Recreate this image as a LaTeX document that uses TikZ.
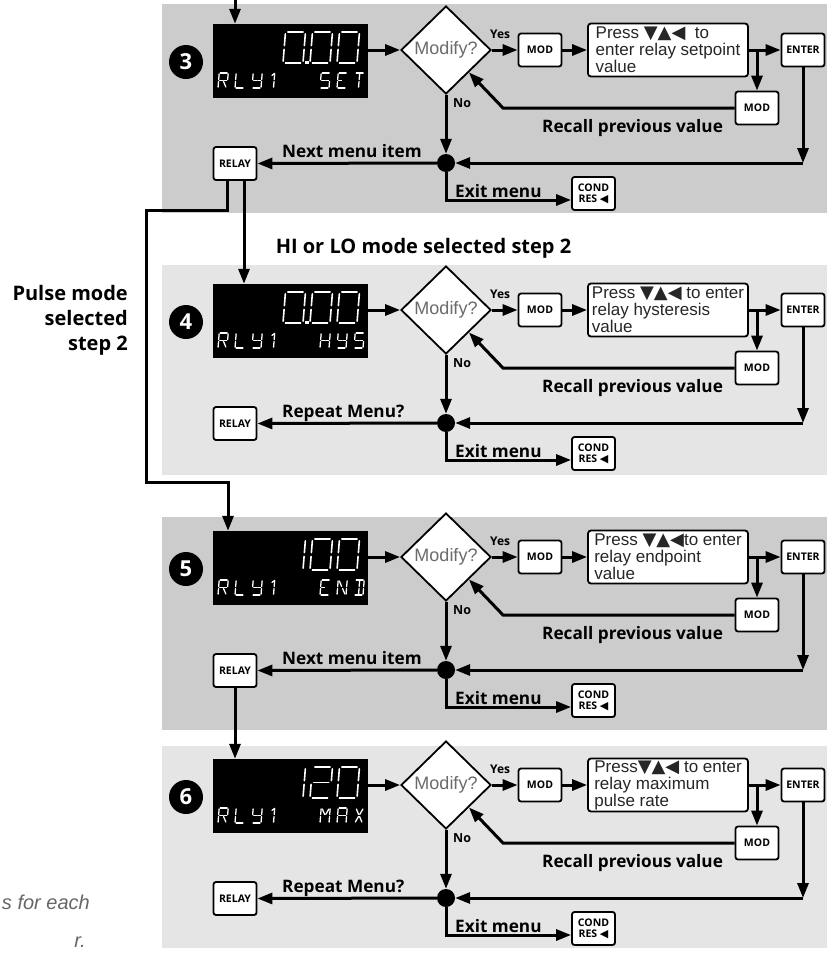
\documentclass[tikz,border=0pt]{standalone}
\usepackage{fontspec}
\setmainfont{Liberation Sans}
\newfontfamily\lblfont{Open Sans}
\newfontfamily\symfont{DejaVu Sans}
\usetikzlibrary{shapes.geometric,arrows.meta}
\definecolor{pdark}{gray}{0.80}
\definecolor{plight}{gray}{0.90}
\definecolor{txtgray}{gray}{0.42}
\newcommand{\keysyms}{{\symfont\fontsize{18}{17}\selectfont ▼▲◀}}
\tikzset{
  conn/.style={line width=3pt,-{Triangle[length=15pt,width=11pt]}},
  keybox/.style={draw,line width=1.8pt,fill=white,rounded corners=2.5pt,minimum width=43pt,minimum height=33pt,inner sep=0pt,align=center,font=\lblfont\bfseries\fontsize{10.5}{11}\selectfont},
  condbox/.style={keybox,font=\lblfont\bfseries\fontsize{10.5}{11}\selectfont},
  pressbox/.style={draw,line width=1.8pt,fill=white,rounded corners=3pt,minimum width=160pt,minimum height=53pt,inner sep=0pt,align=left,text=black!85,font=\fontsize{17}{17}\selectfont},
  dia/.style={diamond,draw,line width=1.8pt,fill=white,minimum width=90pt,minimum height=88pt,inner sep=0pt,text=txtgray,font=\fontsize{18}{18}\selectfont},
  lcd/.style={fill=black,minimum width=155pt,minimum height=74pt,inner sep=0pt},
  numcirc/.style={circle,fill=black,minimum size=34pt,inner sep=0pt,text=white,font=\lblfont\bfseries\fontsize{22}{22}\selectfont},
  junc/.style={circle,fill=black,minimum size=18pt,inner sep=0pt},
  lbl/.style={inner sep=0pt,font=\lblfont\bfseries\fontsize{17.2}{18}\selectfont},
  yeslbl/.style={inner sep=0pt,font=\lblfont\bfseries\fontsize{12}{12}\selectfont},
  nolbl/.style={inner sep=0pt,font=\lblfont\bfseries\fontsize{12.5}{13}\selectfont},
  title/.style={inner sep=0pt,font=\lblfont\bfseries\fontsize{20}{25}\selectfont},
  note/.style={inner sep=0pt,text=black!60,font=\itshape\fontsize{20}{20}\selectfont},
}
% segments of a 14-segment cell (unit cell 1 wide, 2 high, y up)
\newcommand{\sgA}{\draw (0.12,2)--(0.88,2);}
\newcommand{\sgB}{\draw (1,1.88)--(1,1.12);}
\newcommand{\sgC}{\draw (1,0.88)--(1,0.12);}
\newcommand{\sgD}{\draw (0.12,0)--(0.88,0);}
\newcommand{\sgE}{\draw (0,0.88)--(0,0.12);}
\newcommand{\sgF}{\draw (0,1.88)--(0,1.12);}
\newcommand{\sgG}{\draw (0.12,1)--(0.88,1);}
\newcommand{\sgGa}{\draw (0.12,1)--(0.44,1);}
\newcommand{\sgGb}{\draw (0.56,1)--(0.88,1);}
\newcommand{\sgH}{\draw (0.14,1.86)--(0.44,1.14);}
\newcommand{\sgI}{\draw (0.5,1.88)--(0.5,1.12);}
\newcommand{\sgJ}{\draw (0.86,1.86)--(0.56,1.14);}
\newcommand{\sgK}{\draw (0.44,0.86)--(0.14,0.14);}
\newcommand{\sgL}{\draw (0.5,0.88)--(0.5,0.12);}
\newcommand{\sgM}{\draw (0.56,0.86)--(0.86,0.14);}
\newcommand{\segR}{\sgA\sgB\sgF\sgE\sgGa\sgGb\sgM}
\newcommand{\segL}{\sgF\sgE\sgD}
\newcommand{\segY}{\sgF\sgB\sgGa\sgGb\sgC\sgD}
\newcommand{\segOne}{\sgI\sgL\draw (0.5,1.95)--(0.22,1.68);}
\newcommand{\segS}{\sgA\sgF\sgGa\sgGb\sgC\sgD}
\newcommand{\segE}{\sgA\sgF\sgGa\sgE\sgD}
\newcommand{\segT}{\sgA\sgI\sgL}
\newcommand{\segH}{\sgF\sgE\sgB\sgC\sgGa\sgGb}
\newcommand{\segN}{\sgF\sgE\sgH\sgM\sgB\sgC}
\newcommand{\segD}{\sgA\sgB\sgC\sgD\sgI\sgL}
\newcommand{\segM}{\sgF\sgE\sgB\sgC\sgH\sgJ}
\newcommand{\segAA}{\sgA\sgF\sgE\sgB\sgC\sgGa\sgGb}
\newcommand{\segX}{\sgH\sgJ\sgK\sgM}
\newcommand{\bigZero}{\sgA\sgB\sgC\sgD\sgE\sgF}
\newcommand{\bigOne}{\sgB\sgC}
\newcommand{\bigTwo}{\sgA\sgB\sgG\sgE\sgD}
\newcommand{\lcdchar}[5]{\begin{scope}[shift={(#1,#2)},x=#3pt,y=#4pt,xslant=0.08]#5\end{scope}}
\newcommand{\bigch}[2]{\begin{scope}[line width=1.6pt]\lcdchar{#1}{63}{20}{15.5}{#2}\end{scope}}
\newcommand{\smallch}[2]{\begin{scope}[line width=1.3pt]\lcdchar{#1}{88}{9}{7.5}{#2}\end{scope}}
\newcommand{\decpt}{\fill (305,61) rectangle (308.5,64);}
% one stage panel
\newcommand{\stagepanel}[9]{%
\begin{scope}[shift={(0,#2)}]
  \fill[#5] (162,#3) rectangle (827,#4);
  \node[numcirc] (num#1) at (186,62) {#6};
  \node[lcd] (disp#1) at (290.5,61) {};
  \begin{scope}[white,line cap=round]#9\end{scope}
  \node[dia] (dia#1) at (446,50) {Modify?};
  \node[yeslbl,anchor=base west] (yes#1) at (490,38) {Yes};
  \node[keybox] (mod#1) at (540,50) {MOD};
  \node[pressbox] (press#1) at (668,50) {#7};
  \node[keybox] (enter#1) at (803,50) {ENTER};
  \node[keybox] (modb#1) at (757,108) {MOD};
  \node[lbl,anchor=base west] (recall#1) at (542,132) {Recall previous value};
  \node[junc] (junc#1) at (446,163) {};
  \node[nolbl,anchor=base west] (no#1) at (453,107) {No};
  \node[keybox] (relay#1) at (235,163.5) {RELAY};
  \node[lbl,anchor=base west] (left#1) at (282,157) {#8};
  \node[condbox] (cond#1) at (593.5,193.5) {COND\\RES {\symfont\fontsize{11}{11}\selectfont◀}};
  \node[lbl,anchor=base west] (exit#1) at (455,197) {Exit menu};
  \coordinate (br#1) at (757,50);
  \coordinate (rc#1) at (503,108);
  \coordinate (ec#1) at (803,163);
  \coordinate (xc#1) at (446,200);
  \draw[conn] (disp#1.east |- dia#1.west) -- (dia#1.west);
  \draw[conn] (dia#1.east) -- (mod#1.west);
  \draw[conn] (mod#1.east) -- (press#1.west);
  \draw[conn] (press#1.east) -- (enter#1.west);
  \draw[conn] (br#1) -- (modb#1.north);
  \draw[conn] (modb#1.west) -- (rc#1) -- (dia#1.south east);
  \draw[conn] (enter#1.south) -- (ec#1);
  \draw[conn] (ec#1) -- (junc#1.east);
  \draw[conn] (dia#1.south) -- (junc#1.north);
  \draw[conn] (junc#1.west) -- (relay#1.east);
  \draw[conn] (junc#1.south) -- (xc#1) -- (xc#1 -| cond#1.west);
\end{scope}}
\begin{document}
\begin{tikzpicture}[x=1pt,y=-1pt]
\useasboundingbox (0,0) rectangle (829,956);
\stagepanel{3}{0}{4}{213}{pdark}{3}{Press \keysyms\ \ to\\enter relay setpoint\\value}{Next menu item}{%
  \bigch{283}{\bigZero}\decpt\bigch{310}{\bigZero}\bigch{337}{\bigZero}%
  \smallch{218}{\segR}\smallch{235}{\segL}\smallch{252}{\segY}\smallch{269}{\segOne}%
  \smallch{320}{\segS}\smallch{337}{\segE}\smallch{354}{\segT}}
\stagepanel{4}{260}{5}{215}{plight}{4}{Press \keysyms{} to enter\\relay hysteresis\\value}{Repeat Menu?}{%
  \bigch{283}{\bigZero}\decpt\bigch{310}{\bigZero}\bigch{337}{\bigZero}%
  \smallch{218}{\segR}\smallch{235}{\segL}\smallch{252}{\segY}\smallch{269}{\segOne}%
  \smallch{320}{\segH}\smallch{337}{\segY}\smallch{354}{\segS}}
\stagepanel{5}{507}{10}{223}{pdark}{5}{Press \keysyms{}to enter\\relay endpoint\\value}{Next menu item}{%
  \bigch{283}{\bigOne}\bigch{310}{\bigZero}\bigch{337}{\bigZero}%
  \smallch{218}{\segR}\smallch{235}{\segL}\smallch{252}{\segY}\smallch{269}{\segOne}%
  \smallch{320}{\segE}\smallch{337}{\segN}\smallch{354}{\segD}}
\stagepanel{6}{735}{11}{213}{plight}{6}{Press\keysyms{} to enter\\relay maximum\\pulse rate}{Repeat Menu?}{%
  \bigch{283}{\bigOne}\bigch{310}{\bigTwo}\bigch{337}{\bigZero}%
  \smallch{218}{\segR}\smallch{235}{\segL}\smallch{252}{\segY}\smallch{269}{\segOne}%
  \smallch{320}{\segM}\smallch{337}{\segAA}\smallch{354}{\segX}}
% connectors between stages
\coordinate (topin) at (235,0);
\coordinate (p1) at (146,210);
\coordinate (p2) at (146,482);
\coordinate (p3) at (228,482);
\draw[conn] (topin) -- (topin |- disp3.north);
\draw[conn] ([xshift=9pt]relay3.south) -- ([xshift=9pt]relay3.south |- disp4.north);
\draw[conn] ([xshift=-8pt]relay3.south) |- (p1) -- (p2) -- (p3) -- (p3 |- disp5.north);
\draw[conn] (relay5.south) -- (relay5.south |- disp6.north);
% titles
\node[title] (hilo) at (423.5,248) {HI or LO mode selected step 2};
\node[title,align=right,anchor=north east] (pulse) at (128,285) {Pulse mode\\selected\\step 2};
\node[note,anchor=base east] (note1) at (90,909) {s for each};
\node[note,anchor=base east] (note2) at (86,947) {r.};
\end{tikzpicture}
\end{document}
